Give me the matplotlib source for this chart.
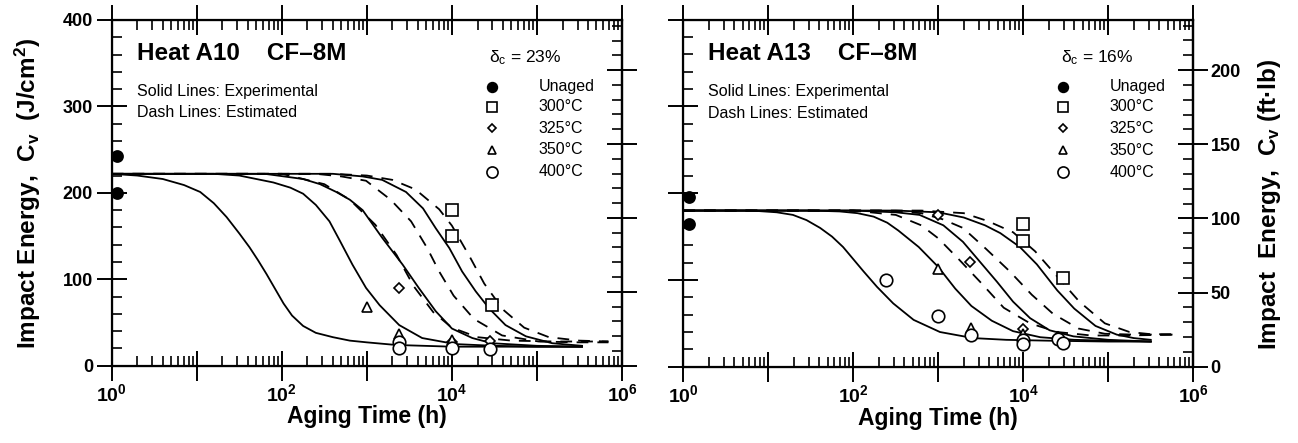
import matplotlib
matplotlib.use("Agg")
import matplotlib.pyplot as plt
import numpy as np
from matplotlib.ticker import MultipleLocator, LogLocator, NullFormatter, FuncFormatter

plt.rcParams['font.family'] = ['Liberation Sans', 'DejaVu Sans']
plt.rcParams['font.weight'] = 'bold'
plt.rcParams['axes.labelweight'] = 'bold'
plt.rcParams['mathtext.default'] = 'regular'

FTLB = 1.71  # J/cm2 per ft.lb as drawn on the right axis

# ---------------- Heat A10 (left) : log10 aging time (h), Cv (J/cm2) ----------------
a10_400_logt = [0, 0.3, 0.6, 0.85, 1.04, 1.2, 1.35, 1.5, 1.62, 1.72, 1.82, 1.92, 2.02, 2.12,
                2.25, 2.4, 2.6, 2.8, 3.0, 3.34, 4.0, 4.8, 5.53]
a10_400_cv = [222, 220, 216, 209, 201, 188, 172, 153, 137, 122, 106, 89, 72, 58,
              46, 38, 33, 29, 27, 24, 22, 22, 22]
a10_350_logt = [0, 1.2, 1.5, 1.7, 1.9, 2.1, 2.25, 2.4, 2.56, 2.68, 2.83, 2.99, 3.15, 3.38,
                3.65, 4.04, 4.5, 5.0, 5.53]
a10_350_cv = [222, 222, 220, 216, 212, 206, 199, 186, 167, 145, 117, 90, 70, 47,
              32, 25, 23, 22, 22]
a10_325_logt = [0, 1.8, 2.25, 2.45, 2.64, 2.8, 2.95, 3.18, 3.42, 3.61, 3.81, 4.0, 4.24, 4.47,
                5.0, 5.53]
a10_325_cv = [222, 222, 216, 210, 201, 192, 180, 148, 117, 90, 63, 43, 32, 26, 23, 22]
a10_300_logt = [0, 2.6, 2.95, 3.18, 3.46, 3.66, 3.81, 3.97, 4.12, 4.28, 4.44, 4.63, 4.87, 5.18, 5.53]
a10_300_cv = [222, 222, 219, 215, 201, 182, 159, 136, 109, 86, 66, 47, 34, 26, 23]
a10_est1_logt = [0, 2.0, 2.5, 2.8, 3.1, 3.35, 3.55, 3.78, 4.0, 4.3, 4.7, 5.2, 5.84]
a10_est1_cv = [222, 222, 210, 192, 163, 128, 92, 62, 44, 33, 29, 28, 28]
a10_est2_logt = [0, 2.4, 2.7, 2.99, 3.28, 3.52, 3.71, 3.85, 4.02, 4.26, 4.59, 5.02, 5.5, 5.84]
a10_est2_cv = [222, 222, 219, 214, 192, 167, 136, 109, 81, 54, 35, 28, 27, 27]
a10_est3_logt = [0, 2.6, 3.0, 3.3, 3.57, 3.85, 4.0, 4.21, 4.38, 4.6, 4.85, 5.14, 5.5, 5.84]
a10_est3_cv = [222, 222, 220, 215, 204, 181, 162, 126, 95, 65, 44, 33, 29, 28]

a10_pts = {
    'Unaged': ([0.06, 0.06], [243, 200]),
    '300°C': ([4.0, 4.0, 4.47], [180, 150, 70]),
    '325°C': ([3.38, 4.0, 4.45], [90, 27, 29]),
    '350°C': ([3.0, 3.38, 4.0], [68, 37, 30]),
    '400°C': ([3.38, 3.38, 4.0, 4.45], [27, 20, 20, 19]),
}

# ---------------- Heat A13 (right) ----------------
a13_400_logt = [0, 0.8, 1.1, 1.29, 1.45, 1.61, 1.75, 1.88, 2.0, 2.12, 2.28, 2.47, 2.71, 3.02,
                3.41, 3.8, 4.3, 5.0, 5.5]
a13_400_cv = [180, 180, 178, 175, 169, 160, 150, 138, 124, 110, 92, 73, 54, 40,
              33, 31, 30, 29, 29]
a13_350_logt = [0, 1.5, 1.84, 2.05, 2.24, 2.4, 2.53, 2.77, 3.0, 3.2, 3.39, 3.63, 3.88, 4.2,
                4.6, 5.0, 5.5]
a13_350_cv = [180, 180, 179, 177, 173, 166, 157, 138, 115, 90, 70, 53, 41, 34, 31, 30, 29]
a13_325_logt = [0, 2.0, 2.5, 2.78, 3.06, 3.29, 3.49, 3.69, 3.88, 4.08, 4.31, 4.59, 5.0, 5.5]
a13_325_cv = [180, 180, 178, 175, 163, 144, 121, 98, 75, 56, 42, 35, 31, 29]
a13_300_logt = [0, 2.5, 3.0, 3.3, 3.55, 3.73, 3.96, 4.16, 4.4, 4.6, 4.85, 5.1, 5.3, 5.5]
a13_300_cv = [180, 180, 178, 172, 163, 154, 138, 118, 88, 67, 47, 37, 33, 31]
a13_est1_logt = [0, 2.0, 2.5, 2.8, 3.0, 3.25, 3.51, 3.77, 4.08, 4.4, 4.8, 5.2, 5.84]
a13_est1_cv = [180, 180, 175, 163, 148, 123, 96, 68, 50, 40, 36, 36, 37]
a13_est2_logt = [0, 2.3, 2.8, 3.05, 3.29, 3.56, 3.84, 4.1, 4.35, 4.65, 4.96, 5.3, 5.84]
a13_est2_cv = [180, 180, 177, 170, 160, 136, 110, 83, 61, 44, 38, 37, 37]
a13_est3_logt = [0, 2.8, 3.3, 3.58, 3.88, 4.14, 4.4, 4.66, 4.96, 5.25, 5.5, 5.84]
a13_est3_cv = [180, 180, 177, 168, 155, 133, 104, 75, 50, 40, 37.5, 37.5]

a13_pts = {
    'Unaged': ([0.07, 0.07], [196, 165]),
    '300°C': ([4.0, 4.0, 4.47], [165, 145, 102]),
    '325°C': ([3.0, 3.37, 4.0, 4.41], [175, 121, 44, 34]),
    '350°C': ([3.0, 3.39, 4.0], [113, 45, 38]),
    '400°C': ([2.39, 3.0, 3.39, 4.0, 4.0, 4.41, 4.47], [100, 58, 37, 31, 26, 32, 27]),
}

legend_labels = ['Unaged', '300°C', '325°C', '350°C', '400°C']
marker_style = {
    'Unaged': dict(marker='o', ms=8, mfc='black'),
    '300°C': dict(marker='s', ms=8, mfc='white'),
    '325°C': dict(marker='D', ms=5.5, mfc='white'),
    '350°C': dict(marker='^', ms=7, mfc='white'),
    '400°C': dict(marker='o', ms=9, mfc='white'),
}
legend_ms = {'Unaged': 7, '300°C': 6.5, '325°C': 4.5, '350°C': 6, '400°C': 8}

fig = plt.figure(figsize=(12.98, 4.43), dpi=100)
axL = fig.add_axes([0.0861, 0.1745, 0.3931, 0.7804])
axR = fig.add_axes([0.5264, 0.1722, 0.3929, 0.7833])


def xfmt(x, p):
    e = int(round(np.log10(x)))
    return r'$10^{%d}$' % e if e % 2 == 0 else ''


def setup(ax, left_labels, right_labels):
    ax.set_xscale('log')
    ax.set_xlim(1, 1e6)
    ax.set_ylim(0, 400)
    ax.xaxis.set_major_locator(LogLocator(base=10, numticks=12))
    ax.xaxis.set_minor_locator(LogLocator(base=10, subs=np.arange(2, 10), numticks=12))
    ax.xaxis.set_minor_formatter(NullFormatter())
    ax.xaxis.set_major_formatter(FuncFormatter(xfmt))
    ax.yaxis.set_major_locator(MultipleLocator(100))
    ax.yaxis.set_minor_locator(MultipleLocator(20))
    ax.tick_params(which='major', direction='inout', length=21, width=1.4, top=True,
                   right=False, labelsize=14)
    ax.tick_params(axis='x', which='major', pad=2)
    ax.tick_params(axis='y', which='major', pad=3, labelsize=13, labelleft=left_labels)
    ax.tick_params(which='minor', direction='in', length=7, width=1.2, top=True, right=False)
    for s in ax.spines.values():
        s.set_linewidth(1.6)
    ax2 = ax.twinx()
    ax2.set_ylim(0, 400 / FTLB)
    ax2.yaxis.set_major_locator(MultipleLocator(50))
    ax2.yaxis.set_minor_locator(MultipleLocator(10))
    ax2.tick_params(which='major', direction='inout', length=21, width=1.4, labelsize=13,
                    pad=2, labelright=right_labels)
    ax2.tick_params(which='minor', direction='in', length=7, width=1.2)
    ax2.spines['right'].set_linewidth(1.6)
    return ax2


def draw(ax, solids, dashes, pts, title, delta):
    for lt, cv in solids:
        ax.plot(10 ** np.array(lt), cv, color='black', lw=1.3, solid_joinstyle='round')
    for lt, cv in dashes:
        ax.plot(10 ** np.array(lt), cv, color='black', lw=1.3, dashes=(6.5, 5))
    for lab in legend_labels:
        lt, cv = pts[lab]
        st = marker_style[lab]
        ax.plot(10 ** np.array(lt), cv, ls='none', marker=st['marker'], ms=st['ms'],
                mfc=st['mfc'], mec='black', mew=1.2, clip_on=False)
    ax.text(0.049, 0.902, title, transform=ax.transAxes, fontsize=17.5,
            ha='left', va='center')
    ax.text(0.049, 0.793, 'Solid Lines: Experimental', transform=ax.transAxes,
            fontsize=11.5, fontweight='normal', ha='left', va='center')
    ax.text(0.049, 0.731, 'Dash Lines: Estimated', transform=ax.transAxes,
            fontsize=11.5, fontweight='normal', ha='left', va='center')
    ax.text(0.74, 0.891, 'δ$_c$ = ' + delta, transform=ax.transAxes, fontsize=12.5,
            fontweight='normal', ha='left', va='center')
    rows = [0.807, 0.749, 0.687, 0.624, 0.561]
    for lab, yy in zip(legend_labels, rows):
        st = marker_style[lab]
        ax.plot([0.745], [yy], transform=ax.transAxes, ls='none', marker=st['marker'],
                ms=legend_ms[lab], mfc=st['mfc'], mec='black', mew=1.2, clip_on=False)
        ax.text(0.836, yy, lab, transform=ax.transAxes, fontsize=11.5,
                fontweight='normal', ha='left', va='center')


axL2 = setup(axL, True, False)
axR2 = setup(axR, False, True)

draw(axL,
     [(a10_400_logt, a10_400_cv), (a10_350_logt, a10_350_cv),
      (a10_325_logt, a10_325_cv), (a10_300_logt, a10_300_cv)],
     [(a10_est1_logt, a10_est1_cv), (a10_est2_logt, a10_est2_cv),
      (a10_est3_logt, a10_est3_cv)],
     a10_pts, 'Heat A10    CF–8M', '23%')
draw(axR,
     [(a13_400_logt, a13_400_cv), (a13_350_logt, a13_350_cv),
      (a13_325_logt, a13_325_cv), (a13_300_logt, a13_300_cv)],
     [(a13_est1_logt, a13_est1_cv), (a13_est2_logt, a13_est2_cv),
      (a13_est3_logt, a13_est3_cv)],
     a13_pts, 'Heat A13    CF–8M', '16%')

axL.set_ylabel('Impact Energy,  C$_v$  (J/cm$^2$)', fontsize=17.5, fontweight='bold')
axL.yaxis.set_label_coords(-0.135, 0.497)
axR2.set_ylabel('Impact  Energy,  C$_v$ (ft·lb)', fontsize=17.5, fontweight='bold')
axR2.yaxis.set_label_coords(1.124, 0.469)
for ax in (axL, axR):
    ax.set_xlabel('Aging Time (h)', fontsize=16.5, fontweight='bold')
    ax.xaxis.set_label_coords(0.5, -0.115)

fig.savefig('out.png', dpi=100)
